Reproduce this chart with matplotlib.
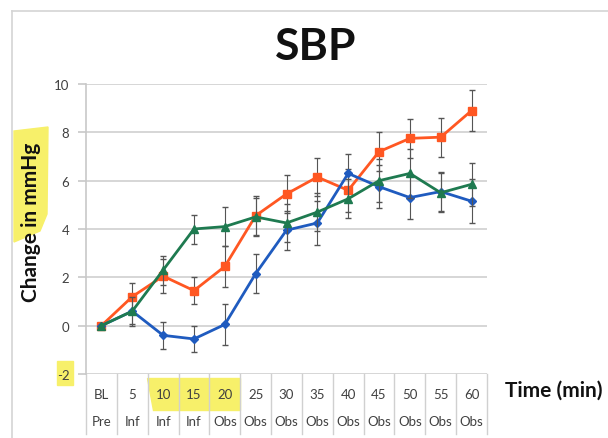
import numpy as np
import matplotlib.pyplot as plt
from matplotlib.patches import Rectangle, Polygon
import matplotlib.transforms as mtransforms

# category labels (two-level Excel axis)
minutes = ["BL", "5", "10", "15", "20", "25", "30", "35", "40", "45", "50", "55", "60"]
phase = ["Pre", "Inf", "Inf", "Inf", "Obs", "Obs", "Obs", "Obs", "Obs", "Obs", "Obs", "Obs", "Obs"]

# series values (change in mmHg)
orange = [0.0, 1.2, 2.05, 1.45, 2.45, 4.55, 5.45, 6.15, 5.6, 7.2, 7.75, 7.8, 8.9]
blue = [0.0, 0.6, -0.4, -0.55, 0.05, 2.15, 3.95, 4.25, 6.3, 5.75, 5.3, 5.55, 5.15]
green = [0.0, 0.6, 2.3, 4.0, 4.1, 4.5, 4.25, 4.7, 5.25, 6.0, 6.3, 5.5, 5.85]

orange_err = [0.0, 0.55, 0.7, 0.55, 0.85, 0.8, 0.8, 0.8, 0.9, 0.8, 0.8, 0.8, 0.85]
blue_err = [0.0, 0.55, 0.55, 0.55, 0.85, 0.8, 0.8, 0.9, 0.8, 0.9, 0.9, 0.8, 0.9]
green_err = [0.0, 0.6, 0.6, 0.6, 0.8, 0.8, 0.8, 0.8, 0.8, 0.9, 1.0, 0.8, 0.9]

plt.rcParams['font.family'] = ['Lato', 'DejaVu Sans']

fig = plt.figure(figsize=(6.08, 4.39), dpi=100)
W, H = 608, 439

def fx(px):
    return px / W

def fy(py):
    return 1 - py / H

# outer chart border (light gray)
fig.add_artist(plt.Line2D([fx(12), 1], [fy(12), fy(12)], color="#d4d4d4", lw=1.2))
fig.add_artist(plt.Line2D([fx(12), fx(12)], [fy(12), 0], color="#d4d4d4", lw=1.2))

# yellow highlighter marks
yel = "#f7f06a"
fig.add_artist(Polygon([(fx(14), fy(132)), (fx(48), fy(128)), (fx(47), fy(215)),
                        (fx(40), fy(232)), (fx(14), fy(243))],
                       closed=True, transform=fig.transFigure, color=yel, zorder=0))
fig.add_artist(Rectangle((fx(57), fy(386)), fx(16), 24 / H,
                         transform=fig.transFigure, color=yel, zorder=0))
fig.add_artist(Polygon([(fx(147), fy(379)), (fx(240), fy(379)), (fx(240), fy(411)),
                        (fx(153), fy(411))],
                       closed=True, transform=fig.transFigure, color=yel, zorder=0))

ax = fig.add_axes([fx(86), fy(375), fx(487) - fx(86), (375 - 85) / H])
ax.patch.set_alpha(0)

x = np.arange(len(minutes))
ecol = "#555555"
ax.errorbar(x, orange, yerr=orange_err, color="#ff5722", marker="s", ms=6, lw=2,
            ecolor=ecol, elinewidth=0.8, capsize=2, zorder=3)
ax.errorbar(x, blue, yerr=blue_err, color="#1f5bbf", marker="D", ms=4.5, lw=2,
            ecolor=ecol, elinewidth=0.8, capsize=2, zorder=3)
ax.errorbar(x, green, yerr=green_err, color="#1e7a50", marker="^", ms=6, lw=2,
            ecolor=ecol, elinewidth=0.8, capsize=2, zorder=4)

ax.set_xlim(-0.5, len(minutes) - 0.5)
ax.set_ylim(-2, 10)
ax.set_yticks(np.arange(-2, 11, 2))
ax.set_yticklabels([str(v) for v in range(-2, 11, 2)], fontsize=9.5, color="#404040")
ax.set_xticks([])
ax.grid(axis="y", color="#d0d0d0", lw=1.2)
ax.set_axisbelow(True)
for s in ["top", "right", "bottom"]:
    ax.spines[s].set_visible(False)
ax.spines["left"].set_color("#c8c8c8")
ax.spines["left"].set_linewidth(1.2)
ax.tick_params(axis="y", length=6, color="#c8c8c8", width=1.2, pad=6)

# category table under the axis
trans = mtransforms.blended_transform_factory(ax.transData, ax.transAxes)
depth = (435 - 375) / 290
for b in np.arange(len(minutes) + 1) - 0.5:
    ax.plot([b, b], [0, -depth], transform=trans, color="#d0d0d0", lw=1,
            clip_on=False)
for i in range(len(minutes)):
    ax.text(i, -(395 - 375) / 290, minutes[i], transform=trans, ha="center",
            va="center", fontsize=9.5, color="#404040")
    ax.text(i, -(422 - 375) / 290, phase[i], transform=trans, ha="center",
            va="center", fontsize=9.5, color="#404040")

fig.text(fx(316), fy(47), "SBP", ha="center", va="center", fontsize=32,
         fontweight="bold", color="#111111")
fig.text(fx(31), fy(222), "Change in mmHg", ha="center", va="center",
         rotation=90, fontsize=15, fontweight="bold", color="#111111")
fig.text(fx(554), fy(391), "Time (min)", ha="center", va="center", fontsize=15,
         fontweight="bold", color="#111111")

fig.savefig("out.png", dpi=100)
